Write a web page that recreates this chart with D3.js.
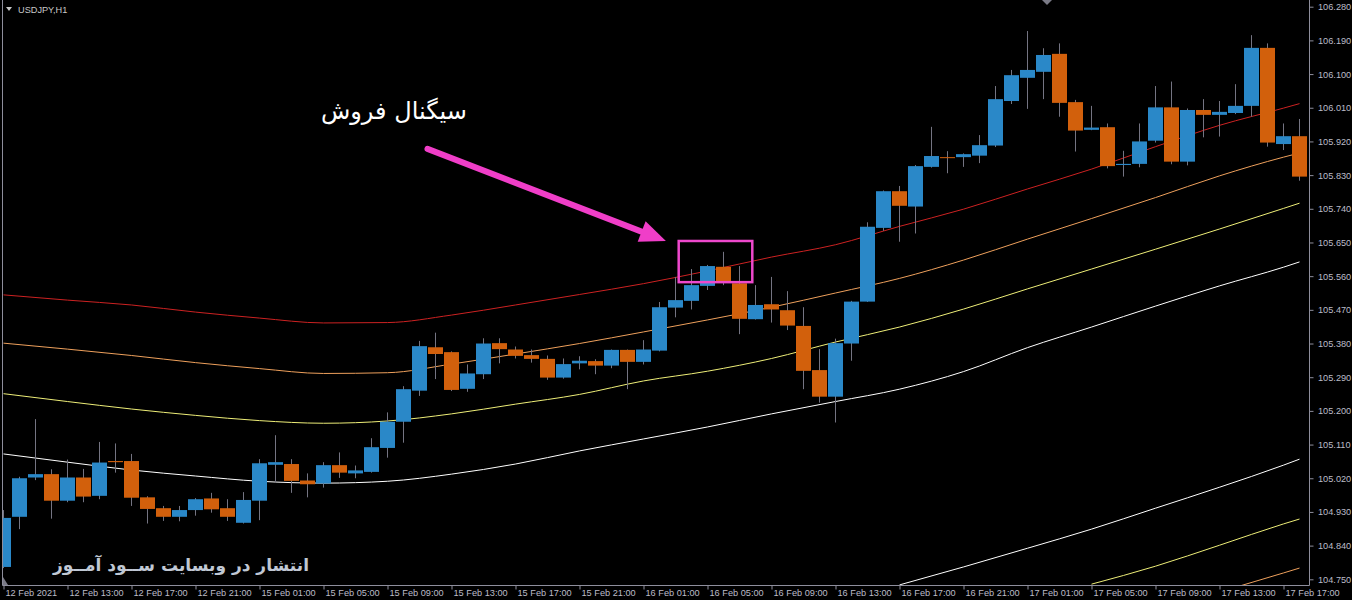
<!DOCTYPE html>
<html>
<head>
<meta charset="utf-8">
<script src="https://cdn.jsdelivr.net/npm/d3@7"></script>
<style>
  html, body { margin: 0; padding: 0; background: #000; }
  svg { display: block; }
</style>
</head>
<body>
<script>
// USDJPY H1 candles, 12 Feb 2021 09:00 .. 17 Feb 18:00
var opens = [104.783,104.917,105.022,105.031,104.960,105.022,104.973,105.066,105.066,104.969,
  104.940,104.917,104.935,104.966,104.940,104.901,104.960,105.056,105.058,105.014,
  105.006,105.055,105.033,105.037,105.101,105.171,105.254,105.370,105.357,105.259,
  105.298,105.381,105.364,105.349,105.339,105.289,105.327,105.333,105.321,105.363,
  105.331,105.361,105.476,105.494,105.534,105.585,105.541,105.445,105.485,105.469,
  105.427,105.309,105.238,105.380,105.492,105.689,105.787,105.746,105.852,105.878,
  105.878,105.882,105.909,106.028,106.090,106.106,106.154,106.025,105.951,105.958,
  105.857,105.860,105.922,106.011,105.866,106.004,105.991,105.996,106.015,106.170,
  105.913,105.934];
var highs = [104.935,105.024,105.178,105.044,105.070,105.045,105.117,105.113,105.085,104.972,
  104.946,104.946,104.967,104.981,104.964,104.983,105.071,105.135,105.071,105.033,
  105.063,105.089,105.054,105.127,105.196,105.266,105.387,105.409,105.359,105.324,
  105.394,105.394,105.372,105.364,105.348,105.340,105.346,105.338,105.364,105.364,
  105.389,105.491,105.558,105.579,105.590,105.625,105.587,105.536,105.558,105.520,
  105.477,105.365,105.393,105.494,105.704,105.789,105.801,105.857,105.959,105.894,
  105.888,105.937,106.068,106.111,106.215,106.169,106.182,106.031,106.015,105.968,
  105.895,105.968,106.068,106.080,106.008,106.033,106.028,106.073,106.204,106.182,
  105.968,105.980];
var lows = [104.780,104.884,105.015,104.912,104.956,104.956,104.964,105.035,104.946,104.899,
  104.906,104.905,104.920,104.928,104.906,104.899,104.908,105.009,104.981,104.969,
  104.995,105.021,105.020,105.035,105.075,105.115,105.240,105.285,105.253,105.251,
  105.285,105.327,105.340,105.329,105.283,105.286,105.311,105.298,105.314,105.258,
  105.324,105.359,105.450,105.471,105.523,105.536,105.405,105.444,105.436,105.416,
  105.258,105.222,105.169,105.334,105.491,105.681,105.652,105.674,105.850,105.835,
  105.852,105.862,105.905,106.020,106.007,106.033,105.986,105.893,105.950,105.848,
  105.826,105.851,105.917,105.859,105.856,105.931,105.933,105.993,105.986,105.906,
  105.897,105.815];
var closes = [104.914,105.020,105.031,104.960,105.022,104.971,105.062,105.063,104.968,104.938,
  104.917,104.935,104.964,104.937,104.917,104.962,105.060,105.063,105.013,105.004,
  105.055,105.035,105.041,105.103,105.171,105.258,105.373,105.352,105.256,105.300,
  105.380,105.365,105.347,105.339,105.289,105.325,105.334,105.321,105.363,105.331,
  105.364,105.477,105.496,105.536,105.587,105.543,105.446,105.483,105.471,105.428,
  105.307,105.238,105.381,105.492,105.692,105.787,105.748,105.854,105.881,105.876,
  105.886,105.910,106.033,106.097,106.111,106.151,106.023,105.949,105.957,105.854,
  105.860,105.920,106.011,105.866,106.004,105.991,105.999,106.015,106.170,105.917,
  105.934,105.826];

// moving averages read every 4 bars
var maBars   = [0,4,8,12,16,20,24,28,32,36,40,44,48,52,56,60,64,68,72,76,80,81];
var maRed    = [105.510,105.496,105.483,105.464,105.448,105.435,105.436,105.456,105.483,105.511,105.540,
  105.574,105.611,105.644,105.693,105.739,105.793,105.846,105.906,105.963,106.009,106.021];
var maOrange = [105.381,105.365,105.348,105.329,105.313,105.300,105.302,105.325,105.352,105.380,105.411,
  105.443,105.477,105.515,105.554,105.603,105.659,105.714,105.770,105.828,105.878,105.889];
var maYellow = [105.246,105.225,105.205,105.188,105.174,105.167,105.173,105.192,105.218,105.244,105.280,
  105.306,105.340,105.384,105.424,105.472,105.526,105.579,105.632,105.686,105.741,105.755];
var maWhite  = [105.085,105.063,105.042,105.026,105.012,105.007,105.012,105.031,105.058,105.093,105.125,
  105.157,105.192,105.225,105.258,105.305,105.369,105.424,105.480,105.534,105.584,105.598];

// lower band lines entering from the bottom on the right
var lowWhiteBars  = [56,60,64,68,72,76,80,81];
var lowWhite      = [104.735,104.783,104.833,104.884,104.940,104.996,105.055,105.071];
var lowYellowBars = [68,72,76,80,81];
var lowYellow     = [104.737,104.785,104.841,104.898,104.911];
var lowOrangeBars = [76,80,81];
var lowOrange     = [104.716,104.767,104.780];

var priceTicks = [106.280,106.190,106.100,106.010,105.920,105.830,105.740,105.650,105.560,
  105.470,105.380,105.290,105.200,105.110,105.020,104.930,104.840,104.750];
var timeTickBars = [0,4,8,12,16,20,24,28,32,36,40,44,48,52,56,60,64,68,72,76,80];
var timeTicks = ["12 Feb 2021","12 Feb 13:00","12 Feb 17:00","12 Feb 21:00","15 Feb 01:00",
  "15 Feb 05:00","15 Feb 09:00","15 Feb 13:00","15 Feb 17:00","15 Feb 21:00","16 Feb 01:00",
  "16 Feb 05:00","16 Feb 09:00","16 Feb 13:00","16 Feb 17:00","16 Feb 21:00","17 Feb 01:00",
  "17 Feb 05:00","17 Feb 09:00","17 Feb 13:00","17 Feb 17:00"];

// signal annotation (bar index / price)
var signalBox = {i0: 42.2, i1: 46.8, top: 105.654, bottom: 105.544};
var signalArrow = {i0: 26.5, p0: 105.900, i1: 41.4, p1: 105.654};
var signalText = {i: 24.4, p: 105.980, label: "سیگنال فروش"};

var W = 1352, H = 600;
var plotRight = 1309.5, plotBottom = 585.5, plotLeft = 2.5;
var axisColor = "#8e8e9c", textColor = "#bcbcc8";
var upColor = "#2a88c8", downColor = "#d2600c", wickColor = "#747482";

var svg = d3.select("body").append("svg")
    .attr("width", W)
    .attr("height", H)
    .style("background", "#000");

var x = d3.scaleLinear().domain([0, 81]).range([3.5, 1299.5]);
var y = d3.scaleLinear().domain([104.75, 106.28]).range([579.3, 6.7]);

svg.append("clipPath").attr("id", "plot")
  .append("rect")
    .attr("x", plotLeft).attr("y", 0)
    .attr("width", plotRight - plotLeft).attr("height", plotBottom);

var plot = svg.append("g").attr("clip-path", "url(#plot)");

// moving average lines
var line = d3.line()
    .x(function(d) { return x(d[0]); })
    .y(function(d) { return y(d[1]); })
    .curve(d3.curveMonotoneX);

var lines = [
  [maBars, maRed, "#cc2222"],
  [maBars, maOrange, "#eea05c"],
  [maBars, maYellow, "#eeee78"],
  [maBars, maWhite, "#ffffff"],
  [lowWhiteBars, lowWhite, "#ffffff"],
  [lowYellowBars, lowYellow, "#eeee78"],
  [lowOrangeBars, lowOrange, "#eea05c"]
];
lines.forEach(function(l) {
  plot.append("path")
    .datum(d3.zip(l[0], l[1]))
    .attr("d", line)
    .attr("fill", "none")
    .attr("stroke", l[2])
    .attr("stroke-width", 1);
});

// candles
var bars = d3.range(opens.length).map(function(i) {
  return {i: i, o: opens[i], h: highs[i], l: lows[i], c: closes[i]};
});

var candle = plot.selectAll(".candle")
    .data(bars)
    .enter()
    .append("g")
    .attr("class", "candle");

candle.append("line")
    .attr("x1", function(d) { return x(d.i); })
    .attr("x2", function(d) { return x(d.i); })
    .attr("y1", function(d) { return y(d.h); })
    .attr("y2", function(d) { return y(d.l); })
    .attr("stroke", wickColor)
    .attr("stroke-width", 1);

candle.append("rect")
    .attr("x", function(d) { return x(d.i) - 7.5; })
    .attr("width", 15)
    .attr("y", function(d) { return y(Math.max(d.o, d.c)); })
    .attr("height", function(d) { return Math.max(1, Math.abs(y(d.o) - y(d.c))); })
    .attr("fill", function(d) { return d.c >= d.o ? upColor : downColor; });

// axes frame
svg.append("line").attr("x1", plotLeft).attr("x2", plotLeft).attr("y1", 0).attr("y2", plotBottom)
    .attr("stroke", axisColor);
svg.append("line").attr("x1", plotRight).attr("x2", plotRight).attr("y1", 0).attr("y2", plotBottom)
    .attr("stroke", axisColor);
svg.append("line").attr("x1", plotLeft).attr("x2", plotRight).attr("y1", plotBottom).attr("y2", plotBottom)
    .attr("stroke", axisColor);

var yAxis = svg.append("g")
    .attr("transform", "translate(" + plotRight + ",0)")
    .call(d3.axisRight(y).tickValues(priceTicks).tickFormat(d3.format(".3f")).tickSize(4).tickSizeOuter(0));
yAxis.select(".domain").remove();
yAxis.selectAll("line").attr("stroke", axisColor);
yAxis.selectAll("text")
    .attr("x", 8.5)
    .attr("fill", textColor)
    .attr("font-family", "Liberation Sans, Arial, sans-serif")
    .attr("font-size", 9.2);

var xAxis = svg.append("g")
    .attr("transform", "translate(0," + plotBottom + ")")
    .call(d3.axisBottom(x).tickValues(timeTickBars)
      .tickFormat(function(d, k) { return timeTicks[k]; })
      .tickSize(4).tickSizeOuter(0));
xAxis.select(".domain").remove();
xAxis.selectAll("line").attr("stroke", axisColor);
xAxis.selectAll("text")
    .attr("text-anchor", "start")
    .attr("x", 1.5)
    .attr("y", 4)
    .attr("fill", textColor)
    .attr("font-family", "Liberation Sans, Arial, sans-serif")
    .attr("font-size", 9.2);

// chart title and small markers
svg.append("path").attr("d", "M6,7 L12,7 L9,11 Z").attr("fill", "#c8c8c8");
svg.append("text")
    .attr("x", 18).attr("y", 13)
    .attr("fill", "#c8c8c8")
    .attr("font-family", "Liberation Sans, Arial, sans-serif")
    .attr("font-size", 9.2)
    .text("USDJPY,H1");
svg.append("path").attr("d", "M1042,0 L1052,0 L1047,5 Z").attr("fill", "#7a7a86");
svg.append("path").attr("d", "M3,577 L3,585 L8,585 Z").attr("fill", "#7a7a86");

// sell signal annotation
var pink = "#f03ec8";
plot.append("rect")
    .attr("x", x(signalBox.i0))
    .attr("y", y(signalBox.top))
    .attr("width", x(signalBox.i1) - x(signalBox.i0))
    .attr("height", y(signalBox.bottom) - y(signalBox.top))
    .attr("fill", "none")
    .attr("stroke", "#ee48cc")
    .attr("stroke-width", 2.5);

var ax0 = x(signalArrow.i0), ay0 = y(signalArrow.p0);
var ax1 = x(signalArrow.i1), ay1 = y(signalArrow.p1);
var len = Math.hypot(ax1 - ax0, ay1 - ay0);
var ux = (ax1 - ax0) / len, uy = (ay1 - ay0) / len;
var headLen = 26, headHalf = 11;
var bx = ax1 - ux * headLen, by = ay1 - uy * headLen;
plot.append("line")
    .attr("x1", ax0).attr("y1", ay0)
    .attr("x2", bx + ux * 2).attr("y2", by + uy * 2)
    .attr("stroke", pink)
    .attr("stroke-width", 6)
    .attr("stroke-linecap", "round");
plot.append("path")
    .attr("d", "M" + ax1 + "," + ay1 +
      " L" + (bx - uy * headHalf) + "," + (by + ux * headHalf) +
      " L" + (bx + uy * headHalf) + "," + (by - ux * headHalf) + " Z")
    .attr("fill", pink);

svg.append("text")
    .attr("x", x(signalText.i))
    .attr("y", y(signalText.p))
    .attr("text-anchor", "middle")
    .attr("fill", "#ffffff")
    .attr("font-family", "DejaVu Sans, sans-serif")
    .attr("font-size", 24)
    .text(signalText.label);

// watermark
svg.append("text")
    .attr("x", 181)
    .attr("y", 571)
    .attr("text-anchor", "middle")
    .attr("fill", "#c0c8d4")
    .attr("font-family", "DejaVu Sans, sans-serif")
    .attr("font-weight", "bold")
    .attr("font-size", 17)
    .text("انتشار در وبسایت ســود آمــوز");
</script>
</body>
</html>
